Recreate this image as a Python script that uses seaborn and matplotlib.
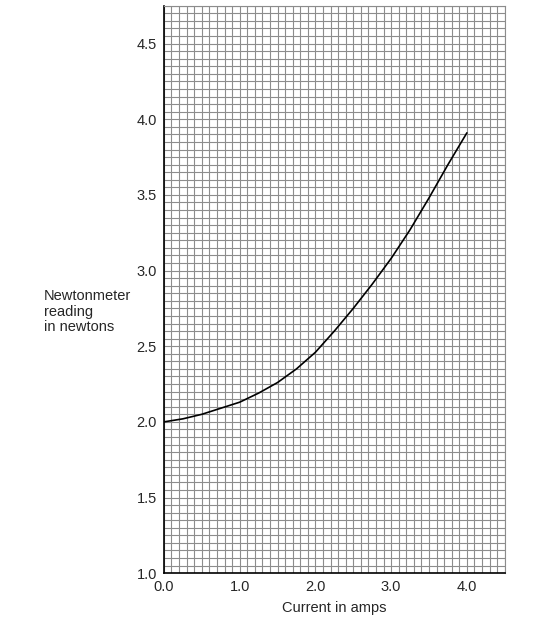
import matplotlib
matplotlib.use("Agg")
import matplotlib.pyplot as plt
import seaborn as sns
import numpy as np
import pandas as pd

# values
current = [0.0, 0.25, 0.5, 0.75, 1.0, 1.25, 1.5, 1.75, 2.0, 2.25, 2.5, 2.75, 3.0, 3.25, 3.5, 3.75, 4.0]
reading = [2.0, 2.02, 2.05, 2.09, 2.13, 2.19, 2.26, 2.35, 2.46, 2.60, 2.75, 2.91, 3.08, 3.27, 3.48, 3.70, 3.91]
x_ticks = [0.0, 1.0, 2.0, 3.0, 4.0]
y_ticks = [1.0, 1.5, 2.0, 2.5, 3.0, 3.5, 4.0, 4.5]

df = pd.DataFrame({"current": current, "reading": reading})

sns.set_style("white")
plt.rcParams['font.family'] = ['Liberation Sans', 'DejaVu Sans']

fig = plt.figure(figsize=(5.41, 6.39), dpi=100)
ax = fig.add_axes([0.303, 0.103, 0.63, 0.888])

# graph paper
ax.set_xticks(np.arange(0, 4.51, 0.1), minor=True)
ax.set_yticks(np.arange(1.0, 4.76, 0.05), minor=True)
ax.grid(which="minor", color="#8c8c8c", linewidth=0.8)
ax.grid(which="major", color="#8c8c8c", linewidth=0.8)
ax.set_axisbelow(True)

sns.lineplot(data=df, x="current", y="reading", color="black", linewidth=1.2, ax=ax)

ax.set_xlim(0, 4.5)
ax.set_ylim(1.0, 4.75)
ax.set_xticks(x_ticks)
ax.set_yticks(y_ticks)
ax.set_xticklabels([f"{v:.1f}" for v in x_ticks], fontsize=10.5)
ax.set_yticklabels([f"{v:.1f}" for v in y_ticks], fontsize=10.5)
ax.tick_params(which="major", length=4, width=0.8, color="black", pad=1)
ax.tick_params(which="minor", length=0)

for s in ["left", "bottom"]:
    ax.spines[s].set_color("black")
    ax.spines[s].set_linewidth(1.2)
for s in ["top", "right"]:
    ax.spines[s].set_color("#8c8c8c")
    ax.spines[s].set_linewidth(0.8)

ax.set_xlabel("Current in amps", fontsize=10.5, labelpad=5)
ax.set_ylabel("")
fig.text(44 / 541, 1 - 289 / 639, "Newtonmeter\nreading\nin newtons", fontsize=10.5,
         ha="left", va="top", linespacing=1.15)

fig.savefig("out.png", dpi=100)
